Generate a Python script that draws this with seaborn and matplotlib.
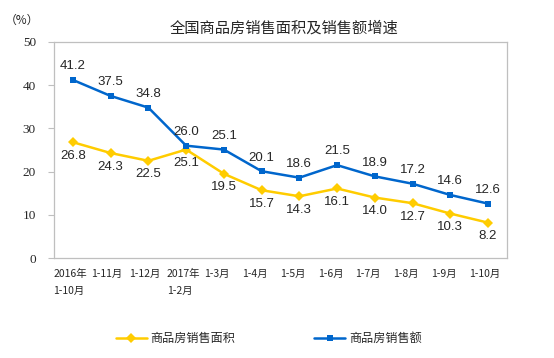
import seaborn as sns
import matplotlib.pyplot as plt
import matplotlib.transforms as mtrans
import numpy as np
import pandas as pd

periods = ['2016年\n1-10月', '1-11月', '1-12月', '2017年\n1-2月', '1-3月', '1-4月',
           '1-5月', '1-6月', '1-7月', '1-8月', '1-9月', '1-10月']
area_growth = [26.8, 24.3, 22.5, 25.1, 19.5, 15.7, 14.3, 16.1, 14.0, 12.7, 10.3, 8.2]
sales_growth = [41.2, 37.5, 34.8, 26.0, 25.1, 20.1, 18.6, 21.5, 18.9, 17.2, 14.6, 12.6]
series_names = ['商品房销售面积', '商品房销售额']
y_ticks = [0, 10, 20, 30, 40, 50]

sns.set_theme(style='white')
plt.rcParams['font.family'] = ['Noto Sans CJK SC', 'DejaVu Sans']

df = pd.DataFrame({
    'pos': list(range(len(periods))) * 2,
    'value': area_growth + sales_growth,
    'series': [series_names[0]] * len(periods) + [series_names[1]] * len(periods),
})

colors = {series_names[0]: '#FFCC00', series_names[1]: '#0066CC'}
markers = {series_names[0]: 'D', series_names[1]: 's'}

fig = plt.figure(figsize=(5.54, 3.58), dpi=100)
ax = fig.add_axes([0.0975, 0.279, 0.8175, 0.604])

sns.lineplot(data=df, x='pos', y='value', hue='series', style='series',
             palette=colors, markers=markers, dashes=False, markersize=5,
             markeredgewidth=0, linewidth=1.8, ax=ax, legend=False)

# value labels: sales above, area below
for i, v in enumerate(sales_growth):
    ax.annotate(f'{v:.1f}', (i, v), xytext=(0, 5.5), textcoords='offset points',
                ha='center', va='bottom', fontsize=9.5, family='Liberation Sans')
for i, v in enumerate(area_growth):
    ax.annotate(f'{v:.1f}', (i, v), xytext=(0, -5.5), textcoords='offset points',
                ha='center', va='top', fontsize=9.5, family='Liberation Sans')

ax.set_xlim(-0.5, len(periods) - 0.5)
ax.set_ylim(0, 50)
ax.set_yticks(y_ticks)
ax.set_yticklabels([str(t) for t in y_ticks], family='Liberation Serif', fontsize=9.5)
ax.set_xticks(range(len(periods)))
ax.set_xticklabels(periods, fontsize=7.5, ha='left', linespacing=1.8)
ax.set_xticks(np.arange(-0.5, len(periods)), minor=True)
ax.tick_params(axis='x', which='major', length=0, pad=8)
ax.tick_params(axis='x', which='minor', length=3, direction='in', color='#BFBFBF', width=0.8)
ax.tick_params(axis='y', length=4, direction='out', color='#BFBFBF', width=0.8, pad=9, left=True)
ax.set_xlabel('')
ax.set_ylabel('')
for s in ax.spines.values():
    s.set_color('#BFBFBF')
    s.set_linewidth(0.9)

# labels start a bit left of the category centre, like the original
off = mtrans.ScaledTranslation(-14 / 72, 0, fig.dpi_scale_trans)
for lbl in ax.get_xticklabels():
    lbl.set_transform(lbl.get_transform() + off)

fig.text(0.513, 0.922, '全国商品房销售面积及销售额增速', ha='center', va='center', fontsize=11)
fig.text(0.04, 0.944, '（%）', ha='center', va='center', fontsize=8.5)

handles = [plt.Line2D([], [], color=colors[n], marker=markers[n], markersize=5,
                      markeredgewidth=0, linewidth=1.8) for n in series_names]
fig.legend(handles, series_names, loc='center', bbox_to_anchor=(0.485, 0.055), ncol=2,
           frameon=False, fontsize=8.7, columnspacing=6.5, handlelength=2.6, handletextpad=0.3)

fig.savefig('out.png', dpi=100)
